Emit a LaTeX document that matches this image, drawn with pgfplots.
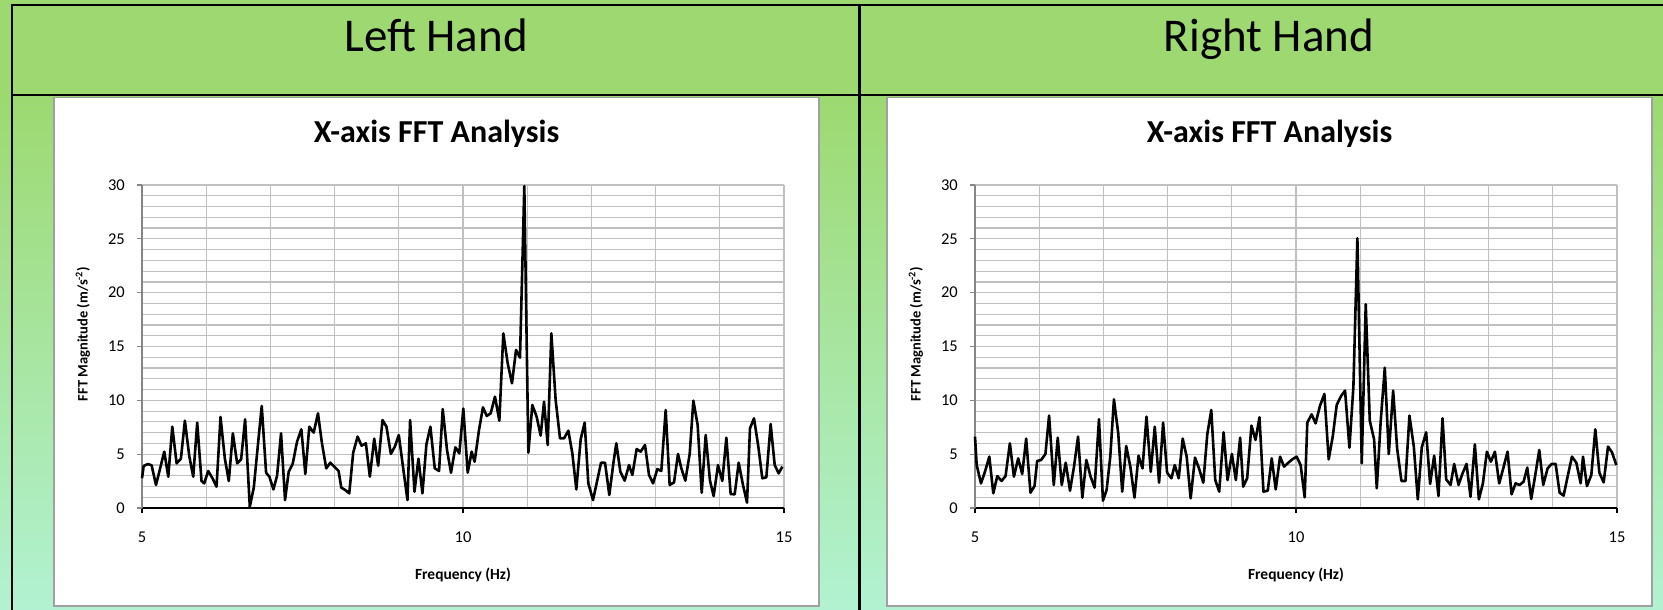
\documentclass[border=0pt]{standalone}
\usepackage{fontspec}
\setmainfont{Carlito}
\usepackage{pgfplots}
\pgfplotsset{compat=1.18}
\definecolor{hdr}{RGB}{157,217,112}
\definecolor{bot}{RGB}{178,242,210}
\definecolor{gridc}{RGB}{192,192,192}
\definecolor{axc}{RGB}{134,134,134}
\definecolor{boxc}{RGB}{160,160,160}
\pgfplotsset{fftax/.style={
  scale only axis, width=642pt, height=323pt, anchor=south west,
  xmin=5, xmax=15, ymin=0, ymax=30,
  xtick={5,10,15}, ytick={0,5,...,30},
  minor x tick num=4, minor y tick num=4,
  grid=both,
  grid style={gridc, line width=1.2pt},
  minor grid style={gridc, line width=1.2pt},
  major grid style={gridc, line width=1.2pt},
  axis x line*=bottom, axis y line*=left,
  x axis line style={-, black, line width=2.5pt},
  y axis line style={-, axc, line width=1.5pt},
  tick align=outside, major tick length=5pt, minor tick length=0pt,
  x tick style={black, line width=1.5pt},
  y tick style={axc, line width=1.2pt},
  ticklabel style={font=\fontsize{16.5}{18}\selectfont, inner sep=0pt},
  /pgf/number format/assume math mode=true,
  xticklabel shift=19pt, yticklabel shift=12pt,
  xlabel={Frequency (Hz)},
  ylabel={FFT Magnitude (m/s\textsuperscript{-2})},
  xlabel style={at={(axis description cs:0.5,-0.2198)}, anchor=base, font=\fontsize{15.5}{17}\selectfont\bfseries},
  ylabel style={at={(axis description cs:-0.0919,0.5387)}, anchor=center, font=\fontsize{14.5}{16}\selectfont\bfseries},
  clip=false,
}}
\begin{document}
\begin{tikzpicture}
\useasboundingbox (0pt,0pt) rectangle (1663pt,-610pt);
\fill[hdr] (0pt,0pt) rectangle (1663pt,-610pt);
\shade[top color=hdr, bottom color=bot] (0pt,-95pt) rectangle (1663pt,-610pt);
\draw[line width=2.8pt, line join=miter] (12pt,-610pt) -- (12pt,-5pt) -- (1663pt,-5pt);
\draw[line width=2.8pt] (12pt,-95pt) -- (1663pt,-95pt);
\draw[line width=2.8pt] (859.5pt,-5pt) -- (859.5pt,-610pt);
\filldraw[fill=white, draw=boxc, line width=1.5pt] (54pt,-97.5pt) rectangle (819pt,-606pt);
\filldraw[fill=white, draw=boxc, line width=1.5pt] (887pt,-97.5pt) rectangle (1652pt,-606pt);
\node[anchor=base, font=\fontsize{47}{50}\selectfont] at (436pt,-52pt) {Left Hand};
\node[anchor=base, font=\fontsize{47}{50}\selectfont] at (1269pt,-52pt) {Right Hand};
\node[anchor=base, font=\fontsize{32}{34}\selectfont\bfseries] at (436.5pt,-142pt) {X-axis FFT Analysis};
\node[anchor=base, font=\fontsize{32}{34}\selectfont\bfseries] at (1269.5pt,-142pt) {X-axis FFT Analysis};
\begin{axis}[fftax, at={(142pt,-508pt)}]
\addplot[black, line width=2.6pt, line join=round] coordinates {
(5.000,2.76)(5.026,3.90)(5.093,4.09)(5.150,3.96)(5.218,2.14)(5.347,5.23)(5.409,2.91)(5.472,7.55)(5.539,4.15)(5.606,4.58)(5.668,8.11)(5.736,4.83)(5.798,2.91)(5.860,7.93)(5.927,2.51)(5.969,2.29)(6.031,3.44)(6.098,2.76)(6.161,1.98)(6.223,8.45)(6.290,4.61)(6.352,2.51)(6.415,6.94)(6.482,4.15)(6.544,4.52)(6.606,8.24)(6.679,0.12)(6.741,1.89)(6.803,5.70)(6.865,9.47)(6.933,3.28)(6.984,2.91)(7.047,1.73)(7.104,3.00)(7.166,6.94)(7.228,0.74)(7.285,3.37)(7.347,4.09)(7.415,6.16)(7.482,7.31)(7.544,3.16)(7.606,7.55)(7.674,7.00)(7.741,8.79)(7.803,6.01)(7.870,3.68)(7.933,4.21)(7.995,3.84)(8.062,3.44)(8.104,1.89)(8.166,1.67)(8.228,1.36)(8.290,5.14)(8.358,6.63)(8.420,5.79)(8.487,6.01)(8.549,2.91)(8.617,6.44)(8.679,3.93)(8.746,8.17)(8.808,7.55)(8.876,5.02)(8.938,5.70)(9.000,6.78)(9.067,3.75)(9.135,0.74)(9.176,8.17)(9.244,1.52)(9.306,4.58)(9.368,1.36)(9.430,5.91)(9.492,7.55)(9.560,3.68)(9.627,3.44)(9.684,9.19)(9.751,5.39)(9.813,3.28)(9.881,5.63)(9.943,5.08)(10.005,9.23)(10.073,3.28)(10.135,5.23)(10.181,4.30)(10.249,7.24)(10.311,9.35)(10.370,8.55)(10.431,8.79)(10.498,10.34)(10.566,8.11)(10.628,16.22)(10.696,13.44)(10.763,11.58)(10.826,14.68)(10.888,13.96)(10.955,29.9)(11.018,5.14)(11.080,9.57)(11.147,8.48)(11.210,6.72)(11.262,9.88)(11.319,5.85)(11.376,16.22)(11.443,10.03)(11.511,6.47)(11.573,6.47)(11.641,7.18)(11.703,5.08)(11.765,1.73)(11.833,6.38)(11.895,7.93)(11.952,2.29)(12.025,0.74)(12.087,2.45)(12.150,4.21)(12.212,4.21)(12.279,1.21)(12.342,4.15)(12.388,6.01)(12.451,3.37)(12.518,2.54)(12.586,3.99)(12.638,3.07)(12.705,5.48)(12.767,5.23)(12.835,5.85)(12.897,3.07)(12.960,2.29)(13.027,3.62)(13.089,3.44)(13.157,9.10)(13.219,2.14)(13.287,2.38)(13.349,5.02)(13.401,3.68)(13.463,2.54)(13.531,5.02)(13.588,9.97)(13.655,7.71)(13.718,1.42)(13.780,6.78)(13.847,2.54)(13.904,1.11)(13.972,3.99)(14.039,2.51)(14.102,6.53)(14.169,1.30)(14.232,1.27)(14.294,4.21)(14.361,2.14)(14.424,0.50)(14.470,7.40)(14.533,8.33)(14.600,5.70)(14.662,2.76)(14.725,2.85)(14.792,7.80)(14.855,3.99)(14.917,3.22)(14.974,3.84)
};
\end{axis}
\begin{axis}[fftax, at={(975pt,-508pt)}]
\addplot[black, line width=2.6pt, line join=round] coordinates {
(5.000,6.63)(5.026,3.99)(5.093,2.29)(5.155,3.37)(5.223,4.77)(5.285,1.36)(5.347,2.97)(5.414,2.51)(5.476,2.97)(5.543,6.01)(5.606,2.91)(5.673,4.61)(5.735,3.16)(5.797,6.44)(5.864,1.42)(5.927,2.04)(5.968,4.37)(6.030,4.46)(6.097,5.02)(6.154,8.58)(6.227,2.14)(6.289,6.53)(6.351,2.14)(6.413,4.21)(6.480,1.61)(6.542,3.84)(6.605,6.63)(6.672,0.96)(6.734,4.46)(6.801,2.91)(6.863,1.89)(6.931,8.24)(6.993,0.68)(7.050,1.67)(7.107,4.77)(7.164,10.09)(7.231,6.94)(7.293,1.52)(7.355,5.76)(7.422,3.75)(7.484,0.96)(7.547,4.86)(7.609,3.68)(7.671,8.48)(7.738,3.37)(7.800,7.55)(7.867,2.35)(7.930,7.93)(7.992,3.28)(8.059,2.76)(8.111,3.99)(8.173,2.76)(8.235,6.44)(8.297,4.77)(8.359,0.90)(8.427,4.68)(8.489,3.68)(8.556,2.35)(8.618,6.84)(8.680,9.10)(8.742,2.60)(8.804,1.52)(8.872,7.03)(8.934,2.60)(9.001,5.02)(9.063,2.60)(9.130,6.53)(9.177,1.98)(9.239,2.76)(9.306,7.65)(9.369,6.32)(9.431,8.42)(9.493,1.52)(9.560,1.61)(9.622,4.61)(9.684,1.73)(9.752,4.77)(9.814,3.84)(9.881,4.21)(9.943,4.52)(10.010,4.77)(10.072,3.99)(10.135,0.99)(10.176,7.93)(10.243,8.70)(10.305,7.86)(10.374,9.50)(10.442,10.59)(10.509,4.52)(10.572,6.63)(10.634,9.57)(10.702,10.40)(10.764,10.90)(10.832,5.60)(10.894,11.27)(10.956,25.05)(11.024,4.15)(11.086,18.92)(11.149,8.11)(11.216,6.38)(11.258,1.83)(11.320,8.11)(11.383,13.03)(11.445,5.02)(11.513,10.90)(11.575,5.54)(11.642,2.51)(11.705,2.51)(11.767,8.58)(11.835,5.70)(11.897,0.80)(11.959,5.63)(12.027,7.03)(12.089,2.23)(12.152,4.86)(12.219,1.11)(12.282,8.33)(12.339,2.66)(12.407,2.14)(12.464,4.09)(12.531,2.14)(12.594,3.22)(12.656,4.09)(12.718,1.05)(12.786,5.91)(12.848,0.80)(12.911,2.29)(12.973,5.23)(13.035,4.30)(13.098,5.23)(13.165,2.29)(13.228,3.68)(13.295,5.23)(13.358,1.27)(13.420,2.29)(13.482,2.14)(13.545,2.45)(13.602,3.75)(13.664,0.84)(13.727,3.07)(13.789,5.39)(13.851,2.14)(13.919,3.68)(13.981,4.09)(14.044,4.09)(14.106,1.42)(14.168,1.15)(14.236,3.07)(14.298,4.77)(14.366,4.21)(14.434,2.29)(14.470,4.77)(14.532,2.04)(14.600,3.07)(14.662,7.31)(14.725,3.28)(14.792,2.38)(14.860,5.70)(14.922,5.17)(14.990,3.99)
};
\end{axis}
\end{tikzpicture}
\end{document}
